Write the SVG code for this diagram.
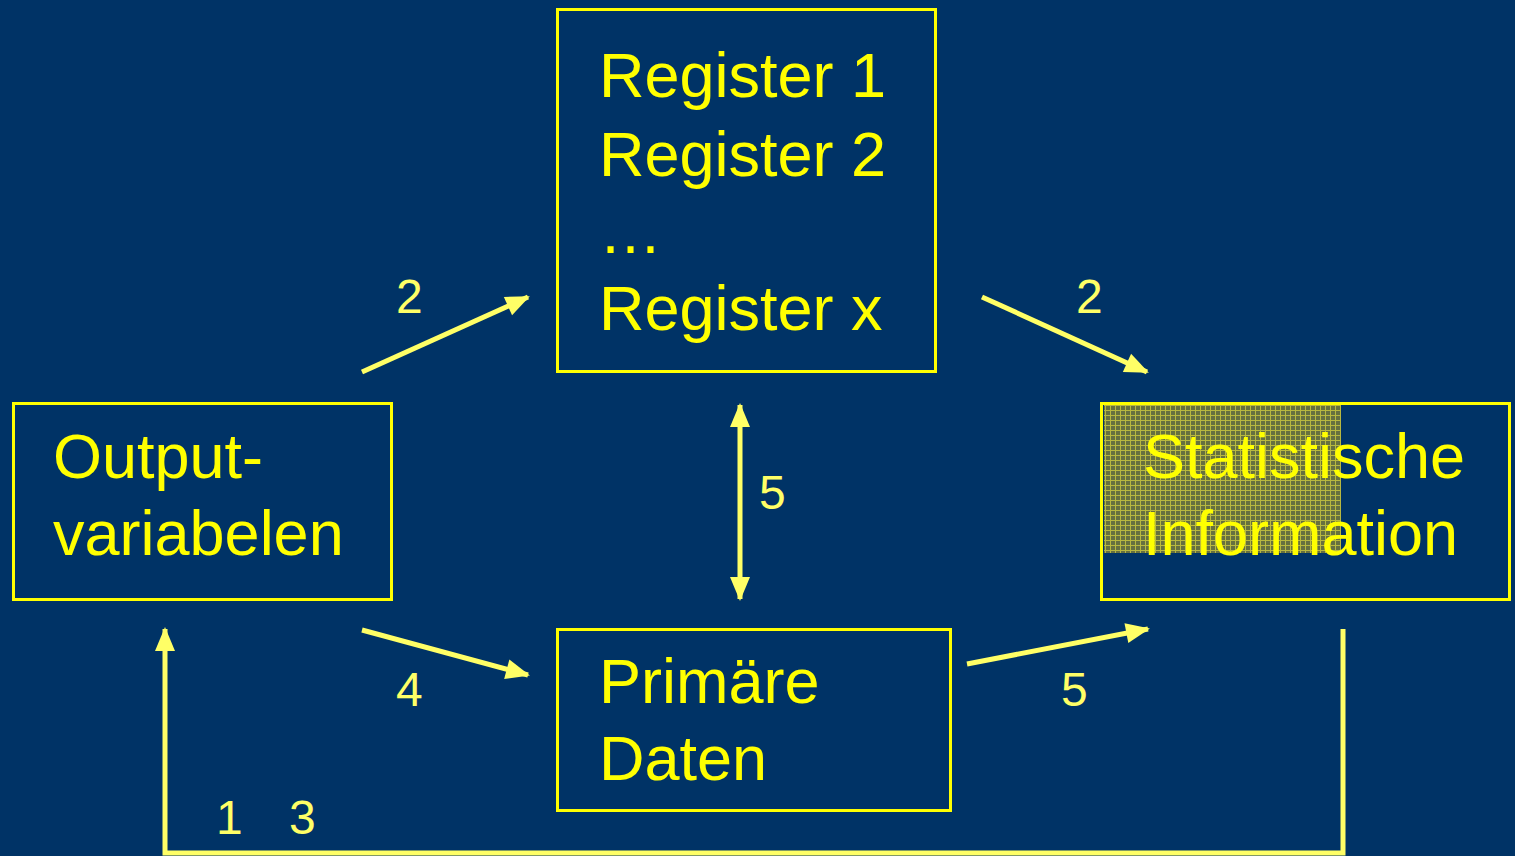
<svg xmlns="http://www.w3.org/2000/svg" width="1515" height="856" viewBox="0 0 1515 856">
<style>
.box{fill:none;stroke:#FFFF00;stroke-width:3}
.t{font-family:"Liberation Sans",Arial,sans-serif;font-size:63px;fill:#FFFF00}
.n{font-family:"Liberation Sans",Arial,sans-serif;font-size:48px;fill:#FFFF66}
.c{fill:none;stroke:#FFFF66;stroke-width:5}
</style>
<defs>
<marker id="ah" viewBox="0 0 24 22" refX="22" refY="11" markerWidth="24" markerHeight="22" markerUnits="userSpaceOnUse" orient="auto-start-reverse" overflow="visible">
<path d="M0,1 L24,11 L0,21 Z" fill="#FFFF66"/>
</marker>
<pattern id="grid" width="5" height="5" patternUnits="userSpaceOnUse">
<rect width="5" height="5" fill="#66703F"/>
<path d="M0,0.5 H5 M0.5,0 V5" stroke="#B8B840" stroke-width="1"/>
</pattern>
</defs>
<rect width="1515" height="856" fill="#003366"/>
<g id="connectors">
<line class="c" x1="362" y1="372" x2="528" y2="297" marker-end="url(#ah)"/>
<line class="c" x1="982" y1="297" x2="1147" y2="372" marker-end="url(#ah)"/>
<line class="c" x1="740" y1="405" x2="740" y2="599" marker-start="url(#ah)" marker-end="url(#ah)"/>
<line class="c" x1="362" y1="630" x2="528" y2="675" marker-end="url(#ah)"/>
<line class="c" x1="967" y1="664" x2="1148" y2="629" marker-end="url(#ah)"/>
<polyline class="c" points="1343,629 1343,853 165,853 165,629" stroke-linejoin="miter" marker-end="url(#ah)"/>
<text class="n" x="396" y="313">2</text>
<text class="n" x="1076" y="313">2</text>
<text class="n" x="759" y="509">5</text>
<text class="n" x="396" y="706">4</text>
<text class="n" x="1061" y="706">5</text>
<text class="n" x="216" y="834">1</text>
<text class="n" x="289" y="834">3</text>
</g>
<g id="register">
<rect class="box" x="557.5" y="9.5" width="378" height="362"/>
<text class="t" x="599" y="97">Register 1</text>
<text class="t" x="599" y="176">Register 2</text>
<text class="t" x="599" y="253">…</text>
<text class="t" x="599" y="330">Register x</text>
</g>
<g id="output">
<rect class="box" x="13.5" y="403.5" width="378" height="196"/>
<text class="t" x="53" y="478">Output-</text>
<text class="t" x="53" y="555">variabelen</text>
</g>
<g id="statistik">
<rect x="1104" y="405" width="237" height="148" fill="url(#grid)"/>
<rect class="box" x="1101.5" y="403.5" width="408" height="196"/>
<text class="t" x="1143" y="478">Statistische</text>
<text class="t" x="1143" y="555">Information</text>
</g>
<g id="primaer">
<rect class="box" x="557.5" y="629.5" width="393" height="181"/>
<text class="t" x="599" y="703">Primäre</text>
<text class="t" x="599" y="780">Daten</text>
</g>
</svg>
